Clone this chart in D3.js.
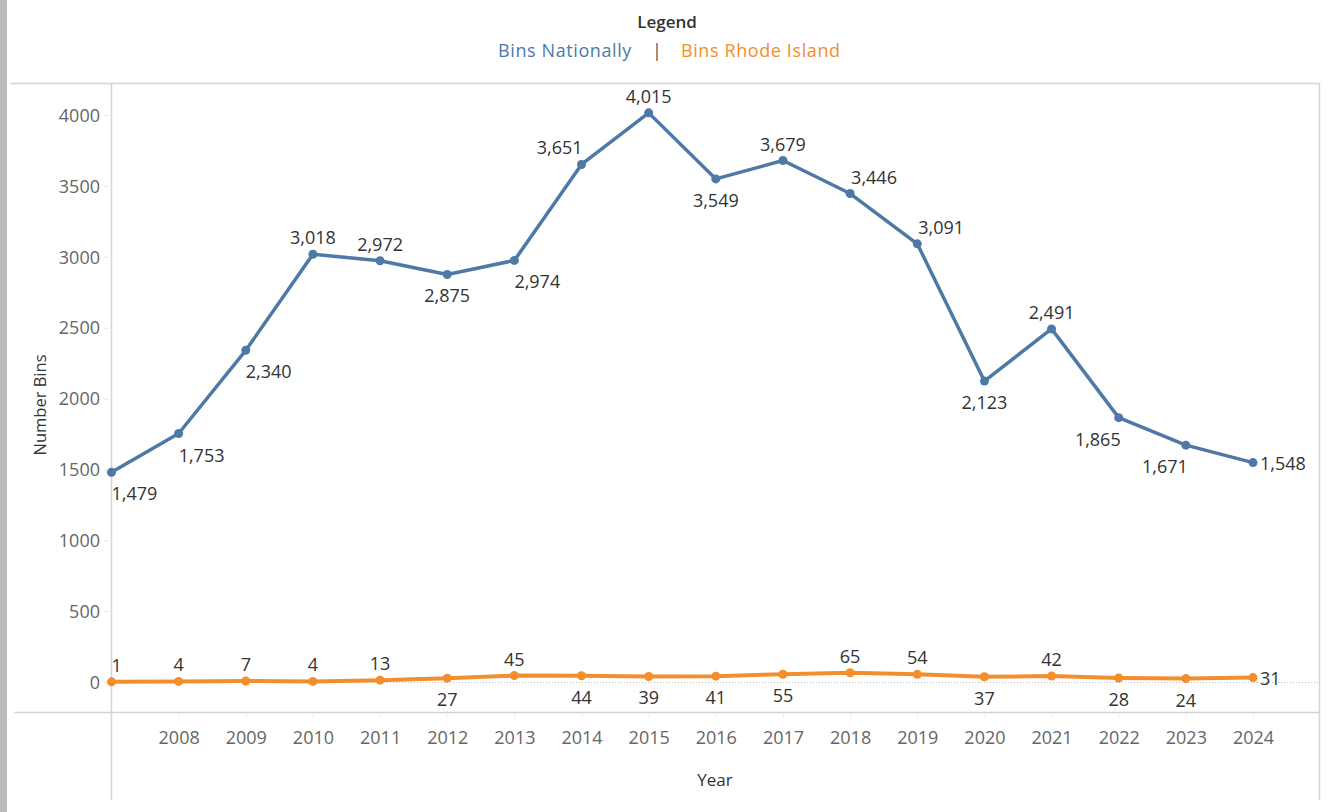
<!DOCTYPE html>
<html><head><meta charset="utf-8">
<script src="https://cdn.jsdelivr.net/npm/d3@7"></script>
<style>
html,body{margin:0;padding:0;background:#fff;}
svg{display:block;}
text{font-family:"Open Sans","Noto Sans",sans-serif;}
</style></head>
<body>
<svg id="chart" width="1330" height="812"></svg>
<script>
const years = [2007,2008,2009,2010,2011,2012,2013,2014,2015,2016,2017,2018,2019,2020,2021,2022,2023,2024];
const binsNational = [1479,1753,2340,3018,2972,2875,2974,3651,4015,3549,3679,3446,3091,2123,2491,1865,1671,1548];
const binsRI = [1,4,7,4,13,27,45,44,39,41,55,65,54,37,42,28,24,31];
const nationalLabelPlace = ["br","br","br","t","t","b","br","tl","t","b","t","tr","tr","b","t","bl","bl","r"];
const riLabelPlace = ["tr","t","t","t","t","b","t","b","b","b","b","t","t","b","t","b","b","r"];
const yTicks = [0,500,1000,1500,2000,2500,3000,3500,4000];
const xTickYears = years.slice(1);
const seriesNames = ["Bins Nationally","Bins Rhode Island"];
const colors = ["#4e79a7","#f28e2b"];

const svg = d3.select("#chart");
const plotLeft = 111, plotRight = 1319, plotTop = 83, plotBottom = 712;

const x = d3.scaleLinear().domain([2007,2024]).range([111.5,1253]);
const y = d3.scaleLinear().domain([0,4000]).range([682,115]);

// left gray bar
svg.append("rect").attr("x",0).attr("y",0).attr("width",7).attr("height",812).attr("fill","#bcbcbc");

// frame lines
const lineCol = "#d4d4d4";
svg.append("line").attr("x1",10).attr("x2",plotRight).attr("y1",plotTop+0.5).attr("y2",plotTop+0.5).attr("stroke",lineCol).attr("stroke-width",1.5);
svg.append("line").attr("x1",14).attr("x2",plotRight).attr("y1",plotBottom+0.5).attr("y2",plotBottom+0.5).attr("stroke",lineCol).attr("stroke-width",1.5);
svg.append("line").attr("x1",plotLeft+0.5).attr("x2",plotLeft+0.5).attr("y1",plotTop).attr("y2",800).attr("stroke",lineCol).attr("stroke-width",1.5);
svg.append("line").attr("x1",plotRight+0.5).attr("x2",plotRight+0.5).attr("y1",plotTop).attr("y2",800).attr("stroke",lineCol).attr("stroke-width",1.5);

// zero line dotted
svg.append("line").attr("x1",plotLeft).attr("x2",plotRight).attr("y1",y(0)+0.5).attr("y2",y(0)+0.5)
  .attr("stroke","#bbb").attr("stroke-width",1).attr("stroke-dasharray","1,2");

// y axis
const yAxis = d3.axisLeft(y).tickValues(yTicks).tickSize(5).tickPadding(4).tickFormat(d3.format("d"));
const gy = svg.append("g").attr("transform",`translate(${plotLeft-2},0)`).call(yAxis);
gy.select(".domain").remove();
gy.selectAll(".tick line").attr("stroke","#e6e6e6");
gy.selectAll(".tick text").attr("fill","#666").style("font-size","18px").attr("dy","0.35em");

// x axis
const xAxis = d3.axisBottom(x).tickValues(xTickYears).tickSize(5).tickPadding(13).tickFormat(d3.format("d"));
const gx = svg.append("g").attr("transform",`translate(0,${plotBottom+1})`).call(xAxis);
gx.select(".domain").remove();
gx.selectAll(".tick line").attr("stroke","#eeeeee");
gx.selectAll(".tick text").attr("fill","#666").style("font-size","18px");

// axis titles
svg.append("text").attr("transform","translate(46,405) rotate(-90)").attr("text-anchor","middle")
  .attr("fill","#333").style("font-size","16.5px").text("Number Bins");
svg.append("text").attr("x",715).attr("y",786).attr("text-anchor","middle")
  .attr("fill","#333").style("font-size","17px").text("Year");

// legend
svg.append("text").attr("x",667).attr("y",28).attr("text-anchor","middle").attr("fill","#333")
  .style("font-size","17px").style("font-weight","600").text("Legend");
svg.append("text").attr("x",632).attr("y",57).attr("text-anchor","end").attr("fill",colors[0])
  .style("font-size","18px").style("letter-spacing","0.6px").text(seriesNames[0]);
svg.append("text").attr("x",657).attr("y",57).attr("text-anchor","middle").attr("fill","#555")
  .style("font-size","18px").text("|");
svg.append("text").attr("x",681).attr("y",57).attr("text-anchor","start").attr("fill",colors[1])
  .style("font-size","18px").style("letter-spacing","0.6px").text(seriesNames[1]);

// lines
const fmt = d3.format(",");
const line = d3.line().x(d=>x(d[0])).y(d=>y(d[1]));
const series = [binsNational, binsRI];
const places = [nationalLabelPlace, riLabelPlace];
series.forEach((vals,si)=>{
  const pts = years.map((yr,i)=>[yr,vals[i]]);
  svg.append("path").datum(pts).attr("d",line).attr("fill","none")
    .attr("stroke",colors[si]).attr("stroke-width",si===0?3.5:4).attr("stroke-linejoin","round");
  svg.selectAll(null).data(pts).enter().append("circle")
    .attr("cx",d=>x(d[0])).attr("cy",d=>y(d[1])).attr("r",4.5).attr("fill",colors[si]);
  const lab = svg.append("g");
  pts.forEach((d,i)=>{
    const px = x(d[0]), py = y(d[1]);
    const p = places[si][i];
    let tx = px, ty = py, anchor = "middle";
    const t = lab.append("text").attr("fill","#333").style("font-size","18px").text(fmt(d[1]));
    if (p==="t"){ ty = py-10; }
    else if (p==="b"){ ty = py+28; }
    else if (p==="tr"){ tx = px+1; ty = py-10; anchor = "start"; }
    else if (p==="tl"){ tx = px+1; ty = py-10; anchor = "end"; }
    else if (p==="br"){ tx = px; ty = py+28; anchor = "start"; }
    else if (p==="bl"){ tx = px+2; ty = py+28; anchor = "end"; }
    else if (p==="r"){ tx = px+7; ty = py+7; anchor = "start"; }
    if (si===1 && p==="tr"){ tx = px; }
    t.attr("x",tx).attr("y",ty).attr("text-anchor",anchor);
  });
});
</script>
</body></html>
